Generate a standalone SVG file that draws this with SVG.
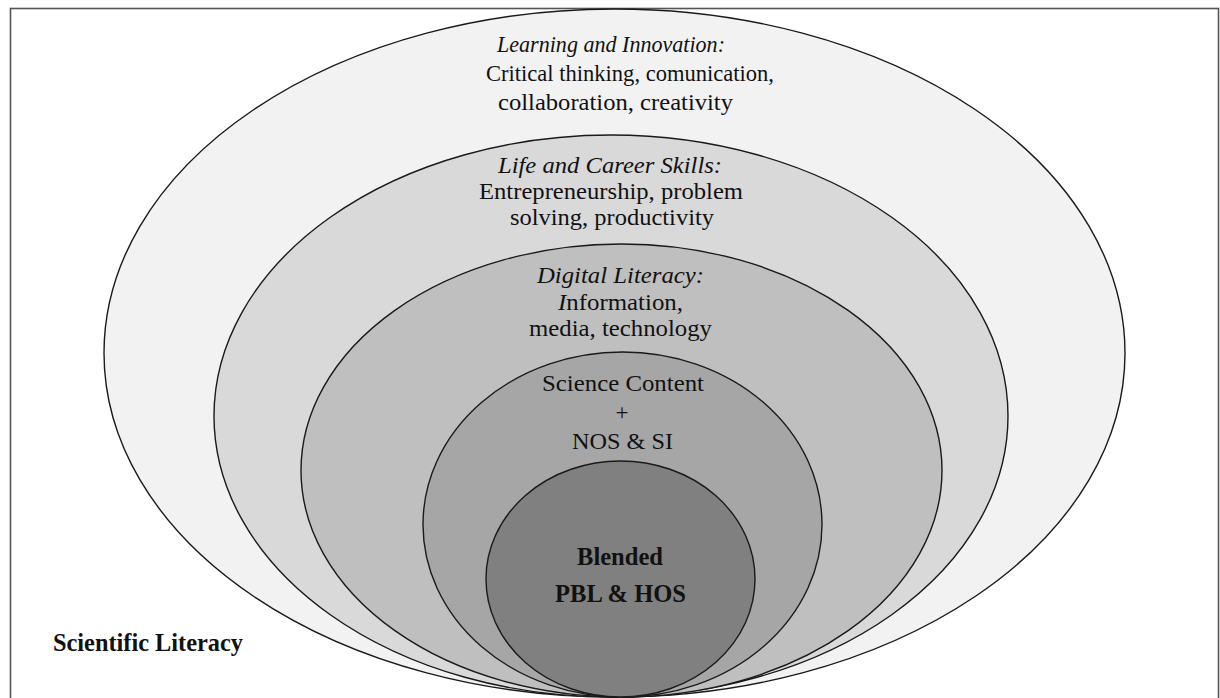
<svg xmlns="http://www.w3.org/2000/svg" width="1220" height="698" viewBox="0 0 1220 698">
<style>
.e{stroke:#1a1a1a;stroke-width:1.4}
.t{font-family:"Liberation Serif","Times New Roman",serif;font-size:23px;fill:#111;text-anchor:middle}
.i{font-style:italic}
.b{font-weight:bold;font-size:24.5px}
</style>
<rect width="1220" height="698" fill="#fff"/>
<rect x="10.5" y="8.5" width="1208" height="700" fill="none" stroke="#555" stroke-width="1.6"/>
<g id="learning-innovation">
<ellipse class="e" cx="614.5" cy="353" rx="510.5" ry="344" fill="#f2f2f2"/>
<text class="t i" x="611" y="52" textLength="228" lengthAdjust="spacingAndGlyphs">Learning and Innovation:</text>
<text class="t" x="630" y="81" textLength="288" lengthAdjust="spacingAndGlyphs">Critical thinking, comunication,</text>
<text class="t" x="615.5" y="110" textLength="235" lengthAdjust="spacingAndGlyphs">collaboration, creativity</text>
</g>
<g id="life-career">
<ellipse class="e" cx="611" cy="416" rx="397" ry="281" fill="#d9d9d9"/>
<text class="t i" x="610" y="173" textLength="224" lengthAdjust="spacingAndGlyphs">Life and Career Skills:</text>
<text class="t" x="611" y="199" textLength="264" lengthAdjust="spacingAndGlyphs">Entrepreneurship, problem</text>
<text class="t" x="612" y="225" textLength="204" lengthAdjust="spacingAndGlyphs">solving, productivity</text>
</g>
<g id="digital-literacy">
<ellipse class="e" cx="621.5" cy="470.5" rx="320.5" ry="226.5" fill="#bfbfbf"/>
<text class="t i" x="620.5" y="283" textLength="167" lengthAdjust="spacingAndGlyphs">Digital Literacy:</text>
<text class="t" x="620.5" y="310" textLength="125" lengthAdjust="spacingAndGlyphs"><tspan class="i">I</tspan>nformation,</text>
<text class="t" x="620.5" y="336" textLength="183" lengthAdjust="spacingAndGlyphs">media, technology</text>
</g>
<g id="science-content">
<ellipse class="e" cx="622.5" cy="524.5" rx="199.5" ry="172.5" fill="#a6a6a6"/>
<text class="t" x="623" y="391" textLength="162" lengthAdjust="spacingAndGlyphs">Science Content</text>
<text class="t" x="622" y="420">+</text>
<text class="t" x="622.5" y="449" textLength="101" lengthAdjust="spacingAndGlyphs">NOS &amp; SI</text>
</g>
<g id="blended">
<ellipse class="e" cx="620.5" cy="579" rx="134.5" ry="118" fill="#808080"/>
<text class="t b" x="620" y="565" textLength="86" lengthAdjust="spacingAndGlyphs">Blended</text>
<text class="t b" x="620.5" y="602" textLength="131" lengthAdjust="spacingAndGlyphs">PBL &amp; HOS</text>
</g>
<g id="scientific-literacy">
<text class="t b" x="53" y="651" style="text-anchor:start" textLength="190" lengthAdjust="spacingAndGlyphs">Scientific Literacy</text>
</g>
<g id="connectors"/>
</svg>
